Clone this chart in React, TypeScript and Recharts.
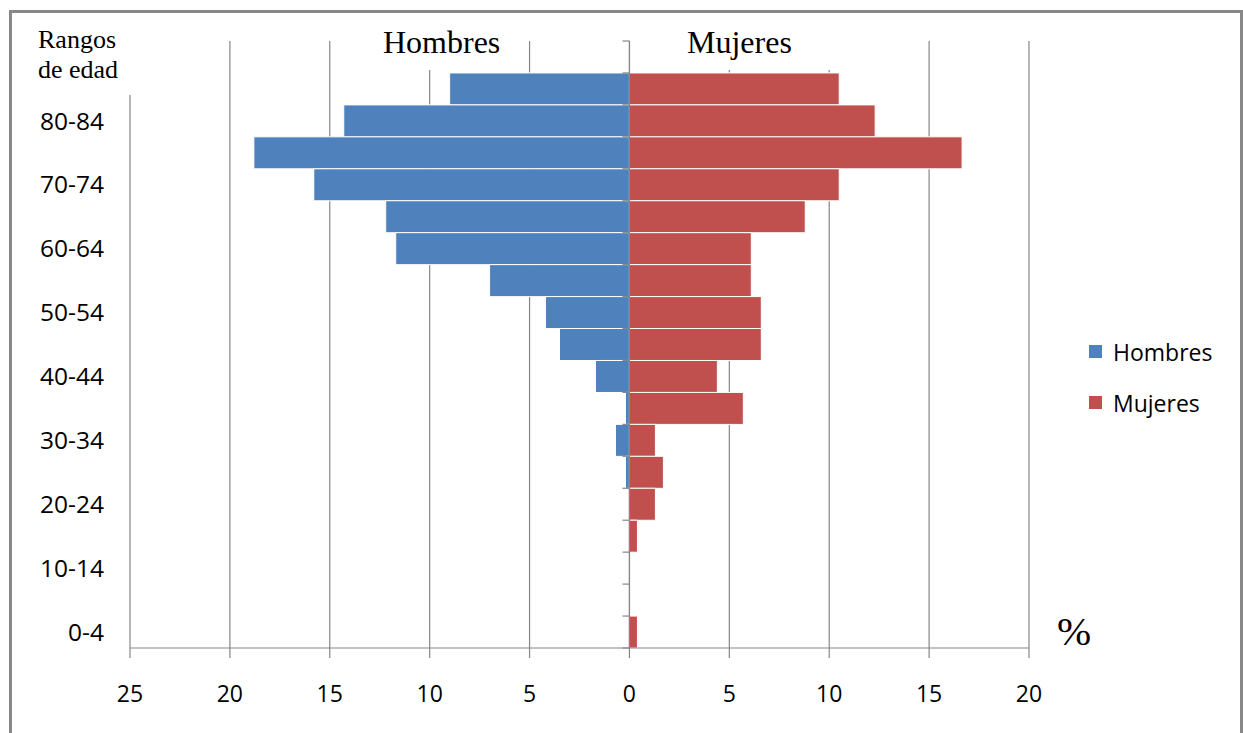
import {
  BarChart,
  Bar,
  CartesianGrid,
  XAxis,
  YAxis,
  Legend,
  ReferenceLine,
} from "recharts";

// age groups, top row is the blank header row of the sheet
const ageGroups = [
  "", "85+", "80-84", "75-79", "70-74", "65-69", "60-64", "55-59", "50-54",
  "45-49", "40-44", "35-39", "30-34", "25-29", "20-24", "15-19", "10-14", "5-9", "0-4",
];
const hombres = [0, 9.0, 14.3, 18.8, 15.8, 12.2, 11.7, 7.0, 4.2, 3.5, 1.7, 0.2, 0.7, 0.2, 0, 0, 0, 0, 0];
const mujeres = [0, 10.5, 12.3, 16.65, 10.5, 8.8, 6.1, 6.1, 6.6, 6.6, 4.4, 5.7, 1.3, 1.7, 1.3, 0.4, 0, 0, 0.4];
const xTicks = [-25, -20, -15, -10, -5, 0, 5, 10, 15, 20];

const BLUE = "#4F81BD";
const RED = "#C0504D";
const GRID = "#868686";
const SANS = "'Open Sans', sans-serif";
const SERIF = "'Liberation Serif', 'Times New Roman', serif";

// men on the left side, so they go in as negatives
const data = ageGroups.map((age, i) => ({
  age,
  Hombres: -hombres[i],
  Mujeres: mujeres[i],
}));

function ZeroAxis(props: any) {
  const { x1, y1, y2 } = props;
  const top = Math.min(y1, y2);
  const bottom = Math.max(y1, y2);
  const step = (bottom - top) / ageGroups.length;
  const marks = [];
  for (let i = 0; i <= ageGroups.length; i++) {
    const y = top + i * step;
    marks.push(<line key={i} x1={x1 - 7} y1={y} x2={x1} y2={y} stroke={GRID} strokeWidth={1.2} />);
  }
  return (
    <g>
      <line x1={x1} y1={top} x2={x1} y2={bottom} stroke={GRID} strokeWidth={1.2} />
      {marks}
    </g>
  );
}

function LegendBox() {
  const items = [
    { name: "Hombres", color: BLUE },
    { name: "Mujeres", color: RED },
  ];
  return (
    <div>
      {items.map((it) => (
        <div key={it.name} style={{ height: 51, display: "flex", alignItems: "center" }}>
          <span style={{ width: 13, height: 13, background: it.color, display: "inline-block", marginRight: 11 }} />
          <span style={{ fontFamily: SANS, fontSize: 23, color: "#000" }}>{it.name}</span>
        </div>
      ))}
    </div>
  );
}

function App() {
  return (
    <div style={{ position: "absolute", left: 0, top: 0, width: 1243, height: 733, overflow: "hidden", background: "#fff" }}>
      <BarChart
        width={1243}
        height={733}
        data={data}
        layout="vertical"
        stackOffset="sign"
        barCategoryGap={0}
        margin={{ top: 41, right: 214, bottom: 45, left: 30 }}
      >
        <CartesianGrid horizontal={false} stroke={GRID} strokeWidth={1.2} />
        <XAxis
          type="number"
          domain={[-25, 20]}
          ticks={xTicks}
          tickFormatter={(v: number) => String(Math.abs(v))}
          axisLine={{ stroke: GRID, strokeWidth: 1.2 }}
          tickLine={{ stroke: GRID, strokeWidth: 1.2 }}
          tickSize={10}
          tickMargin={28}
          height={40}
          tick={{ fill: "#000", fontFamily: SANS, fontSize: 23 }}
        />
        <YAxis
          type="category"
          dataKey="age"
          width={100}
          interval={1}
          axisLine={false}
          tickLine={false}
          tickSize={0}
          tickMargin={26}
          tick={{ fill: "#000", fontFamily: SANS, fontSize: 24.5 }}
        />
        <Legend
          layout="vertical"
          verticalAlign="middle"
          align="center"
          wrapperStyle={{ left: 1089, top: 326, width: 150 }}
          content={() => <LegendBox />}
        />
        <Bar dataKey="Hombres" stackId="a" fill={BLUE} stroke="#fff" strokeWidth={1} isAnimationActive={false} />
        <Bar dataKey="Mujeres" stackId="a" fill={RED} stroke="#fff" strokeWidth={1} isAnimationActive={false} />
        <ReferenceLine x={0} stroke={GRID} shape={(p: any) => <ZeroAxis {...p} />} />
      </BarChart>

      {/* text boxes laid over the chart */}
      <div style={{ position: "absolute", left: 30, top: 25, width: 103, height: 70, background: "#fff" }}>
        <div style={{ position: "absolute", left: 8, top: 0, fontFamily: SERIF, fontSize: 26, lineHeight: "30px", color: "#000" }}>
          Rangos
          <br />
          de edad
        </div>
      </div>
      <div style={{ position: "absolute", left: 372, top: 27, width: 134, height: 43, background: "#fff" }}>
        <div style={{ position: "absolute", left: 11, top: 0, fontFamily: SERIF, fontSize: 32, lineHeight: "31px", color: "#000" }}>
          Hombres
        </div>
      </div>
      <div style={{ position: "absolute", left: 678, top: 27, width: 166, height: 43, background: "#fff" }}>
        <div style={{ position: "absolute", left: 9, top: 0, fontFamily: SERIF, fontSize: 32, lineHeight: "31px", color: "#000" }}>
          Mujeres
        </div>
      </div>
      <div style={{ position: "absolute", left: 1057, top: 611, fontFamily: SERIF, fontSize: 41, lineHeight: "40px", color: "#000" }}>
        %
      </div>

      {/* outer frame */}
      <div
        style={{
          position: "absolute",
          left: 9,
          top: 10,
          width: 1234,
          height: 740,
          border: "3px solid #888",
          boxSizing: "border-box",
          pointerEvents: "none",
        }}
      />
    </div>
  );
}

export default App;
